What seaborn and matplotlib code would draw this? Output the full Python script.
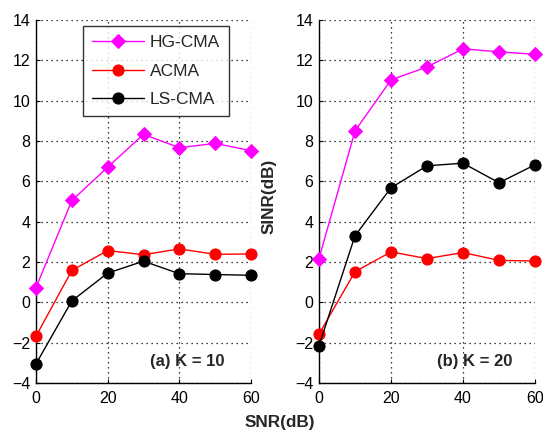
import matplotlib
matplotlib.use("Agg")
import matplotlib.pyplot as plt
import seaborn as sns
import pandas as pd

snr = [0, 10, 20, 30, 40, 50, 60]
series_names = ["HG-CMA", "ACMA", "LS-CMA"]
k10_hg = [0.73, 5.05, 6.7, 8.33, 7.67, 7.88, 7.52]
k10_acma = [-1.68, 1.58, 2.57, 2.36, 2.65, 2.38, 2.4]
k10_ls = [-3.05, 0.07, 1.45, 2.04, 1.42, 1.38, 1.34]
k20_hg = [2.17, 8.5, 11.03, 11.67, 12.57, 12.42, 12.3]
k20_acma = [-1.58, 1.52, 2.5, 2.17, 2.47, 2.08, 2.05]
k20_ls = [-2.15, 3.3, 5.68, 6.77, 6.9, 5.93, 6.82]
panel_titles = ["(a) K = 10", "(b) K = 20"]

colors = {"HG-CMA": "#ff00ff", "ACMA": "#ff0000", "LS-CMA": "#000000"}
markers = {"HG-CMA": "D", "ACMA": "o", "LS-CMA": "o"}
msizes = {"HG-CMA": 7, "ACMA": 8, "LS-CMA": 8}

sns.set_style("white")
plt.rcParams['font.family'] = ['Liberation Sans', 'DejaVu Sans']

fig = plt.figure(figsize=(5.43, 4.30), dpi=100)
W, H = 543, 430
ax1 = fig.add_axes([36 / W, 1 - 383 / H, (251 - 36) / W, (383 - 20) / H])
ax2 = fig.add_axes([319 / W, 1 - 383 / H, (535 - 319) / W, (383 - 20) / H])

panels = [
    (ax1, [k10_hg, k10_acma, k10_ls], panel_titles[0], 0.879),
    (ax2, [k20_hg, k20_acma, k20_ls], panel_titles[1], 0.894),
]

for ax, vals, title, tx in panels:
    for name, v in zip(series_names, vals):
        df = pd.DataFrame({"SNR": snr, "SINR": v})
        sns.lineplot(data=df, x="SNR", y="SINR", ax=ax, color=colors[name],
                     marker=markers[name], markersize=msizes[name],
                     markeredgecolor=colors[name], linewidth=1.0,
                     label=name, clip_on=False, zorder=3)
    ax.set_xlim(0, 60)
    ax.set_ylim(-4, 14)
    ax.set_xticks([0, 20, 40, 60])
    ax.set_yticks(range(-4, 15, 2))
    ax.grid(True, linestyle=(0, (1, 3)), color="black", linewidth=0.9)
    for s in ["top", "right"]:
        ax.spines[s].set_visible(False)
    for s in ["left", "bottom"]:
        ax.spines[s].set_color("black")
        ax.spines[s].set_linewidth(1.0)
    ax.tick_params(axis="both", labelsize=11.5, length=3, direction="in",
                   colors="black", left=True, bottom=True, pad=4)
    ax.tick_params(axis="x", pad=6)
    ax.set_xlabel("")
    ax.set_ylabel("")
    ax.text(tx, 0.058, title, transform=ax.transAxes, ha="right", va="center",
            fontsize=12, fontweight="bold")

leg = ax1.legend(loc="upper left", bbox_to_anchor=(0.219, 0.983), borderaxespad=0,
                 fontsize=12.5, frameon=True, fancybox=False, edgecolor="black",
                 handlelength=3.0, handletextpad=0.35, borderpad=0.5,
                 labelspacing=0.78)
leg.get_frame().set_linewidth(1.0)
ax2.get_legend().remove()

fig.text(280 / W, 1 - 422 / H, "SNR(dB)", ha="center", va="center",
         fontsize=12.3, fontweight="bold")
fig.text(269 / W, 1 - 196 / H, "SINR(dB)", ha="center", va="center",
         fontsize=12.3, fontweight="bold", rotation=90)

fig.savefig("out.png", dpi=100)
